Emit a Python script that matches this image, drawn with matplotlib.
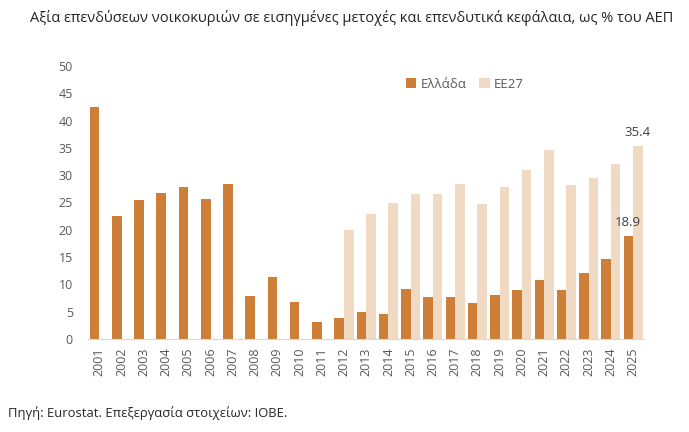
import matplotlib
matplotlib.use("Agg")
import matplotlib.pyplot as plt
import numpy as np

years = [str(y) for y in range(2001, 2026)]
greece = [42.5, 22.5, 25.5, 26.7, 27.8, 25.6, 28.4, 7.9, 11.4, 6.8, 3.1,
          3.8, 4.9, 4.6, 9.2, 7.7, 7.6, 6.6, 8.0, 8.9, 10.8, 9.0, 12.0, 14.6, 18.9]
eu27 = [np.nan] * 11 + [19.9, 22.9, 24.9, 26.5, 26.6, 28.4, 24.8, 27.8, 30.9,
                        34.6, 28.2, 29.5, 32.1, 35.4]
yticks = list(range(0, 55, 5))

title = "Αξία επενδύσεων νοικοκυριών σε εισηγμένες μετοχές και επενδυτικά κεφάλαια, ως % του ΑΕΠ"
source = "Πηγή: Eurostat. Επεξεργασία στοιχείων: ΙΟΒΕ."

plt.rcParams['font.family'] = ['Open Sans', 'DejaVu Sans']

c_gr = '#CD7F37'
c_eu = '#F0DAC4'
txt = '#595959'

fig = plt.figure(figsize=(6.89, 4.32), dpi=100)
ax = fig.add_axes([0.128, 0.2153, 0.807, 0.632])

x = np.arange(len(years))
w = 0.43
ax.bar(x - w / 2, greece, width=w, color=c_gr, label='Ελλάδα')
ax.bar(x + w / 2, eu27, width=w, color=c_eu, label='ΕΕ27')

ax.set_xlim(-0.5, len(years) - 0.5)
ax.set_ylim(0, 50)
ax.set_yticks(yticks)
ax.set_yticklabels([str(v) for v in yticks], fontsize=9, color=txt)
ax.set_xticks(x)
ax.set_xticklabels(years, rotation=90, fontsize=9, color=txt)
ax.tick_params(axis='both', length=0)
ax.tick_params(axis='y', pad=11)
ax.tick_params(axis='x', pad=6)
for s in ['top', 'right', 'left']:
    ax.spines[s].set_visible(False)
ax.spines['bottom'].set_color('#D9D9D9')

ax.text(x[-1] - w / 2, greece[-1] + 1.2, f"{greece[-1]:.1f}", ha='center', va='bottom',
        fontsize=9.5, color='#404040')
ax.text(x[-1] + w / 2, eu27[-1] + 1.2, f"{eu27[-1]:.1f}", ha='center', va='bottom',
        fontsize=9.5, color='#404040')

leg = ax.legend(loc='upper left', bbox_to_anchor=(0.55, 1.0), ncol=2, frameon=False,
                fontsize=9.5, handlelength=0.8, handleheight=0.8, handletextpad=0.3,
                columnspacing=1.0)
for t in leg.get_texts():
    t.set_color(txt)

fig.text(30 / 689, 1 - 18 / 432, title, fontsize=10.5, color='#262626', va='center', ha='left')
fig.text(8 / 689, 1 - 413 / 432, source, fontsize=9.4, color='#262626', va='center', ha='left')

fig.savefig('out.png', dpi=100)
